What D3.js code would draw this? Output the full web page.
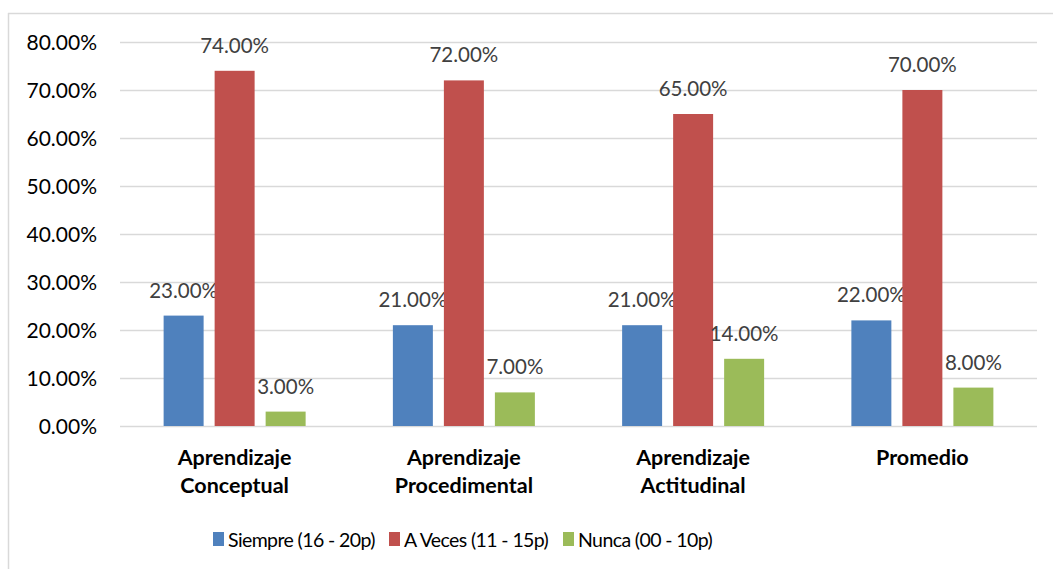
<!DOCTYPE html>
<html>
<head>
<meta charset="utf-8">
<script src="https://cdn.jsdelivr.net/npm/d3@7"></script>
<style>
  body { margin: 0; background: #fff; }
  svg text { font-family: Lato, "Open Sans", sans-serif; }
</style>
</head>
<body>
<div id="chart"></div>
<script>
// chart data
var categories = [["Aprendizaje", "Conceptual"], ["Aprendizaje", "Procedimental"], ["Aprendizaje", "Actitudinal"], ["Promedio"]];
var seriesNames = ["Siempre (16 - 20p)", "A Veces (11 - 15p)", "Nunca (00 - 10p)"];
var siempre = [23, 21, 21, 22];
var aVeces = [74, 72, 65, 70];
var nunca = [3, 7, 14, 8];
var yTicks = [0, 10, 20, 30, 40, 50, 60, 70, 80];
var colors = ["#4f81bd", "#c0504d", "#9bbb59"];

var allSeries = [siempre, aVeces, nunca];

var W = 1053, H = 569;
var margin = {top: 42, left: 120, right: 16, bottom: 143};
var w = W - margin.left - margin.right;
var h = H - margin.top - margin.bottom;

var svg = d3.select("#chart").append("svg")
  .attr("width", W)
  .attr("height", H);

// outer frame (only top and left edges show)
svg.append("line").attr("x1", 8).attr("x2", W).attr("y1", 13.5).attr("y2", 13.5)
  .attr("stroke", "#d9d9d9").attr("stroke-width", 1.5);
svg.append("line").attr("x1", 8.5).attr("x2", 8.5).attr("y1", 13).attr("y2", H)
  .attr("stroke", "#d9d9d9").attr("stroke-width", 1.5);

var g = svg.append("g")
  .attr("transform", "translate(" + margin.left + "," + margin.top + ")");

var x0 = d3.scaleBand()
  .domain(d3.range(categories.length))
  .range([0, w])
  .padding(0);

// 3 bars of 40px with 11px gaps, centred in each category
var x1 = d3.scaleBand()
  .domain(d3.range(seriesNames.length))
  .range([(x0.bandwidth() - 142) / 2, (x0.bandwidth() + 142) / 2])
  .paddingInner(0.216);

var y = d3.scaleLinear()
  .domain([0, 80])
  .range([h, 0]);

// gridlines + y labels
var yAxis = d3.axisLeft(y)
  .tickValues(yTicks)
  .tickSize(-w)
  .tickPadding(23)
  .tickFormat(function(d) { return d.toFixed(2) + "%"; });

var ya = g.append("g").call(yAxis);
ya.select(".domain").remove();
ya.selectAll(".tick line").attr("stroke", "#d9d9d9").attr("stroke-width", 1.5);
ya.selectAll(".tick text")
  .attr("fill", "#000")
  .style("font-size", "21px")
  .attr("dy", "0.35em");

// bars
var groups = g.selectAll(".grp")
  .data(categories)
  .enter().append("g")
  .attr("transform", function(d, i) { return "translate(" + x0(i) + ",0)"; });

groups.each(function(cat, ci) {
  var gg = d3.select(this);
  allSeries.forEach(function(s, si) {
    gg.append("rect")
      .attr("x", x1(si))
      .attr("y", y(s[ci]))
      .attr("width", x1.bandwidth())
      .attr("height", h - y(s[ci]))
      .attr("fill", colors[si]);
    gg.append("text")
      .attr("x", x1(si) + x1.bandwidth() / 2)
      .attr("y", y(s[ci]) - 18)
      .attr("text-anchor", "middle")
      .attr("fill", "#404040")
      .style("font-size", "20.5px")
      .text(s[ci].toFixed(2) + "%");
  });
});

// category labels
groups.append("text")
  .attr("x", x0.bandwidth() / 2)
  .attr("y", h + 39)
  .attr("text-anchor", "middle")
  .attr("fill", "#000")
  .style("font-size", "21.5px")
  .style("font-weight", "bold")
  .selectAll("tspan")
  .data(function(d) { return d; })
  .enter().append("tspan")
  .attr("x", x0.bandwidth() / 2)
  .attr("dy", function(d, i) { return i === 0 ? 0 : 28; })
  .text(function(d) { return d; });

// legend
var legendX = [213, 389, 563];
var legend = svg.append("g");
seriesNames.forEach(function(name, i) {
  legend.append("rect")
    .attr("x", legendX[i])
    .attr("y", 532)
    .attr("width", 11)
    .attr("height", 14)
    .attr("fill", colors[i]);
  legend.append("text")
    .attr("x", legendX[i] + 15)
    .attr("y", 547)
    .attr("fill", "#000")
    .style("font-size", "19.5px")
    .style("letter-spacing", "-0.6px")
    .text(name);
});
</script>
</body>
</html>
